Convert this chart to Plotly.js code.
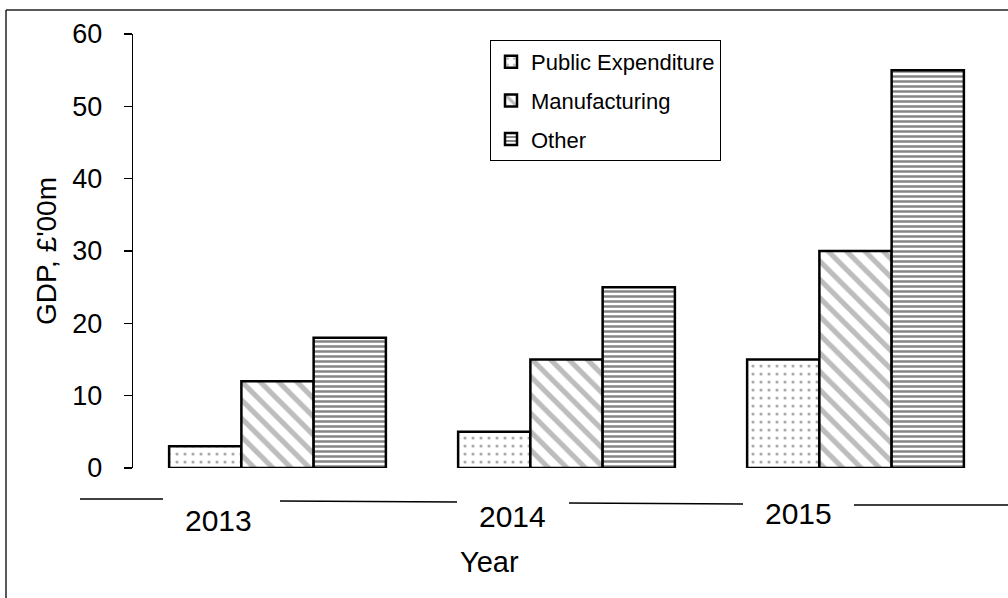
<!DOCTYPE html>
<html><head><meta charset="utf-8">
<script src="https://cdn.plot.ly/plotly-3.0.1.min.js"></script>
<style>html,body{margin:0;padding:0;background:#fff}</style>
</head><body><div id="chart" style="width:1008px;height:598px"></div>
<script>
// ---- data ----
const years = ['2013', '2014', '2015'];
const publicExpenditure = [3, 5, 15];
const manufacturing = [12, 15, 30];
const other = [18, 25, 55];
const seriesNames = ['Public Expenditure', 'Manufacturing', 'Other'];
const yTickValues = [0, 10, 20, 30, 40, 50, 60];
const xTitle = 'Year';
const yTitle = "GDP, £'00m";

// ---- layout geometry (pixels) ----
const W = 1008, H = 598;
const L = 133, R = 8, T = 34, B = 130;
const pw = W - L - R, ph = H - T - B;
const px = x => (x - L) / pw;
const py = y => (H - B - y) / ph;
const FONT = 'Liberation Sans, Arial, sans-serif';

const outline = {color: '#000', width: 2.5};
const traces = [
  {name: seriesNames[0], y: publicExpenditure,
   pattern: {shape: '.', fgcolor: '#a8a8a8', bgcolor: '#fff', size: 8, solidity: 0.12}},
  {name: seriesNames[1], y: manufacturing,
   pattern: {shape: '\\', fgcolor: '#bdbdbd', bgcolor: '#fff', size: 13, solidity: 0.4}},
  {name: seriesNames[2], y: other,
   pattern: {shape: '-', fgcolor: '#858585', bgcolor: '#fff', size: 5, solidity: 0.5}}
].map((t, i) => ({
  type: 'bar', x: years, y: t.y, name: t.name, legendgroup: 'g' + i,
  marker: {color: '#fff', line: outline, pattern: t.pattern},
  hoverinfo: 'x+y+name'
}));

const labelShift = [-59, -54, -57];
const labelY = [520, 516, 513];
const annotations = years.map((yr, i) => ({
  text: yr, x: i, xref: 'x', xshift: labelShift[i],
  y: py(labelY[i]), yref: 'paper', yanchor: 'middle', xanchor: 'center',
  showarrow: false, font: {family: FONT, size: 30, color: '#000'}
}));
annotations.push({
  text: xTitle, x: px(489), xref: 'paper', y: py(562), yref: 'paper',
  xanchor: 'center', yanchor: 'middle', showarrow: false,
  font: {family: FONT, size: 29, color: '#000'}
});

const seg = (x0, y0, x1, y1, w, c) => ({
  type: 'line', xref: 'paper', yref: 'paper',
  x0: px(x0), y0: py(y0), x1: px(x1), y1: py(y1),
  line: {color: c || '#000', width: w || 1.6}
});
const shapes = [
  seg(6, 10, 1010, 10, 1.5, '#222'),
  seg(6, 10, 6, 600, 1.5, '#222'),
  seg(80, 499, 163, 499),
  seg(280, 501, 457, 502),
  seg(569, 503, 743, 504),
  seg(854, 505, 1010, 505)
];

const layout = {
  width: W, height: H,
  margin: {l: L, r: R, t: T, b: B, pad: 0},
  paper_bgcolor: '#fff', plot_bgcolor: '#fff',
  barmode: 'group', bargap: 0.25, bargroupgap: 0,
  showlegend: true,
  legend: {
    x: px(490), y: py(40), xanchor: 'left', yanchor: 'top',
    bgcolor: '#fff', bordercolor: '#000', borderwidth: 1,
    font: {family: FONT, size: 22, color: '#000'},
    traceorder: 'grouped', tracegroupgap: 7, itemwidth: 30
  },
  xaxis: {
    type: 'category', range: [-0.5, 2.5], showticklabels: false,
    showline: false, showgrid: false, zeroline: false, ticks: '', fixedrange: true
  },
  yaxis: {
    range: [0, 60], tickvals: yTickValues, showgrid: false, zeroline: false,
    showline: true, linecolor: '#000', linewidth: 1.3,
    ticks: 'outside', ticklen: 8, tickcolor: '#000', tickwidth: 1.3,
    ticklabelstandoff: 16,
    tickfont: {family: FONT, size: 27, color: '#000'},
    title: {text: yTitle, font: {family: FONT, size: 28, color: '#000'}, standoff: 7},
    automargin: false, fixedrange: true
  },
  annotations: annotations,
  shapes: shapes
};

Plotly.newPlot('chart', traces, layout, {displayModeBar: false, staticPlot: true});
</script>
</body></html>
